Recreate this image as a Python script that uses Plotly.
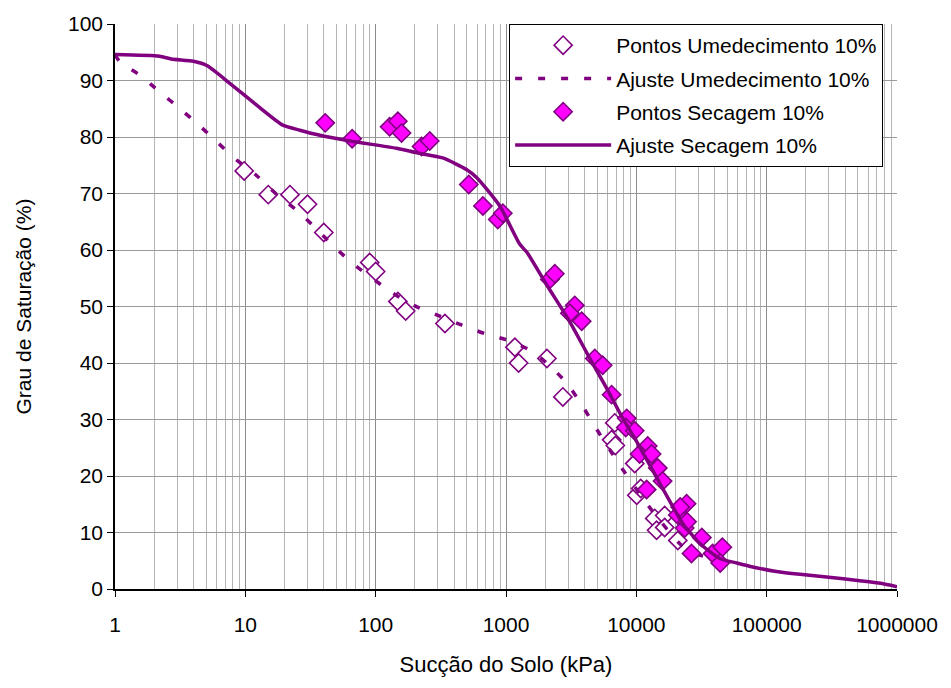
import plotly.graph_objects as go

# Pontos Secagem (drying points)
sec_x = [41, 66, 128, 148, 158, 225, 260, 518, 665, 865, 945, 2170, 2370, 3370, 3090, 3810,
         4800, 5520, 6460, 8440, 8300, 9720, 12230, 10600, 13100, 14600, 15900, 12000, 24300,
         20800, 21700, 23500, 24500, 31800, 26500, 38500, 45700, 44000]
sec_y = [82.5, 79.7, 81.8, 82.8, 80.7, 78.3, 79.3, 71.6, 67.8, 65.4, 66.5, 54.8, 55.8, 50.2, 48.8, 47.4,
         40.8, 39.6, 34.4, 30.2, 28.6, 28.0, 25.3, 23.9, 23.9, 21.4, 19.1, 17.6, 15.1,
         13.1, 14.5, 10.8, 11.9, 9.1, 6.3, 6.3, 7.4, 4.6]

# Pontos Umedecimento (wetting points)
ume_x = [9.8, 15, 22, 30, 40, 90, 100, 148, 170, 340, 1170, 1250, 2060, 2730, 6830, 6460, 6900,
         9720, 10080, 10800, 13840, 16500, 14300, 16500, 20800]
ume_y = [74.0, 69.8, 69.8, 68.1, 63.1, 57.8, 56.2, 50.9, 49.2, 47.0, 42.8, 40.0, 40.8, 34.0, 29.4, 26.4, 25.4,
         22.2, 16.6, 17.8, 12.5, 13.0, 10.4, 10.9, 8.6]

# Ajuste Secagem (drying fit)
fit_sec_x = [1, 2.2, 2.7, 4.0, 5.1, 7.6, 12.3, 19.4, 26.2, 37.4, 63.4, 145, 207, 327, 500, 597, 896,
             1277, 1446, 2055, 3090, 4400, 5930, 7870, 9720, 14330, 18000, 22700, 30600, 43600,
             58900, 78200, 119000, 180000, 300000, 500000, 750000, 1000000]
fit_sec_y = [94.6, 94.3, 93.8, 93.4, 92.6, 89.5, 85.6, 82.1, 81.2, 80.3, 79.3, 78.0, 77.2, 76.3, 74.2, 72.8, 67.8,
             61.0, 59.6, 53.8, 47.3, 40.8, 35.5, 30.2, 26.7, 19.7, 15.6, 11.6, 8.1, 5.4,
             4.6, 3.9, 3.1, 2.6, 2.1, 1.5, 1.0, 0.4]

# Ajuste Umedecimento (wetting fit)
fit_ume_x = [1, 1.09, 1.56, 2.2, 3.15, 4.5, 6.2, 8.6, 12.3, 17.5, 24.9, 34.2, 47, 66, 135, 200, 294,
             460, 688, 1070, 1600, 2290, 2980, 3890, 4800, 7730, 12680, 22300, 30600, 43600]
fit_ume_y = [94.6, 93.3, 90.9, 88.0, 85.0, 81.9, 78.9, 75.9, 73.1, 69.8, 67.0, 64.0, 60.8, 57.7, 52.4, 50.1, 48.5,
             46.7, 45.2, 43.9, 42.0, 39.0, 36.2, 32.3, 28.8, 21.4, 14.4, 7.7, 6.0, 5.2]

x_ticks = [1, 10, 100, 1000, 10000, 100000, 1000000]
x_ticktext = ["1", "10", "100", "1000", "10000", "100000", "1000000"]
minor_vals = [m * d for d in [1, 10, 100, 1000, 10000, 100000] for m in range(2, 10)]

PURPLE = "#800080"
MAGENTA = "#FF00FF"
FONT = "Liberation Sans, Arial, sans-serif"

fig = go.Figure()
fig.add_trace(go.Scatter(
    x=ume_x, y=ume_y, mode="markers", name="Pontos Umedecimento 10%",
    legendgroup="a",
    marker=dict(symbol="diamond", size=14, color="white", line=dict(color=PURPLE, width=1.6)),
))
fig.add_trace(go.Scatter(
    x=fit_ume_x, y=fit_ume_y, mode="lines", name="Ajuste Umedecimento 10%",
    legendgroup="b",
    line=dict(color=PURPLE, width=3.5, dash="7px,16px", shape="spline", smoothing=0.6),
))
fig.add_trace(go.Scatter(
    x=sec_x, y=sec_y, mode="markers", name="Pontos Secagem 10%",
    legendgroup="c",
    marker=dict(symbol="diamond", size=14, color=MAGENTA, line=dict(color=PURPLE, width=1.6)),
))
fig.add_trace(go.Scatter(
    x=fit_sec_x, y=fit_sec_y, mode="lines", name="Ajuste Secagem 10%",
    legendgroup="d",
    line=dict(color=PURPLE, width=3.5, shape="spline", smoothing=0.6),
))

fig.update_layout(
    width=951, height=688,
    margin=dict(l=115, r=54, t=20, b=99),
    paper_bgcolor="white", plot_bgcolor="white",
    font=dict(family=FONT, size=21, color="black"),
    showlegend=True,
    legend=dict(
        x=0.504, y=1, xanchor="left", yanchor="top",
        bgcolor="white", bordercolor="black", borderwidth=1,
        font=dict(family=FONT, size=21, color="black"),
        tracegroupgap=3, itemwidth=96,
    ),
    xaxis=dict(
        type="log", range=[0, 6],
        tickvals=x_ticks, ticktext=x_ticktext,
        showgrid=True, gridcolor="#8c8c8c", gridwidth=1,
        showline=True, linecolor="black", linewidth=1.5,
        ticks="outside", ticklen=6, tickcolor="black",
        ticklabelstandoff=10,
        minor=dict(tickvals=minor_vals, showgrid=True, gridcolor="#b4b4b4", gridwidth=1, ticks=""),
        zeroline=False,
        title=dict(text="Sucção do Solo (kPa)", standoff=22, font=dict(size=22)),
    ),
    yaxis=dict(
        range=[0, 100], dtick=10, tick0=0,
        showgrid=True, gridcolor="#9a9a9a", gridwidth=1,
        showline=True, linecolor="black", linewidth=1.5,
        ticks="outside", ticklen=6, tickcolor="black",
        zeroline=False,
        title=dict(text="Grau de Saturação (%)", standoff=31, font=dict(size=21)),
    ),
)

fig.write_html("out.html")
